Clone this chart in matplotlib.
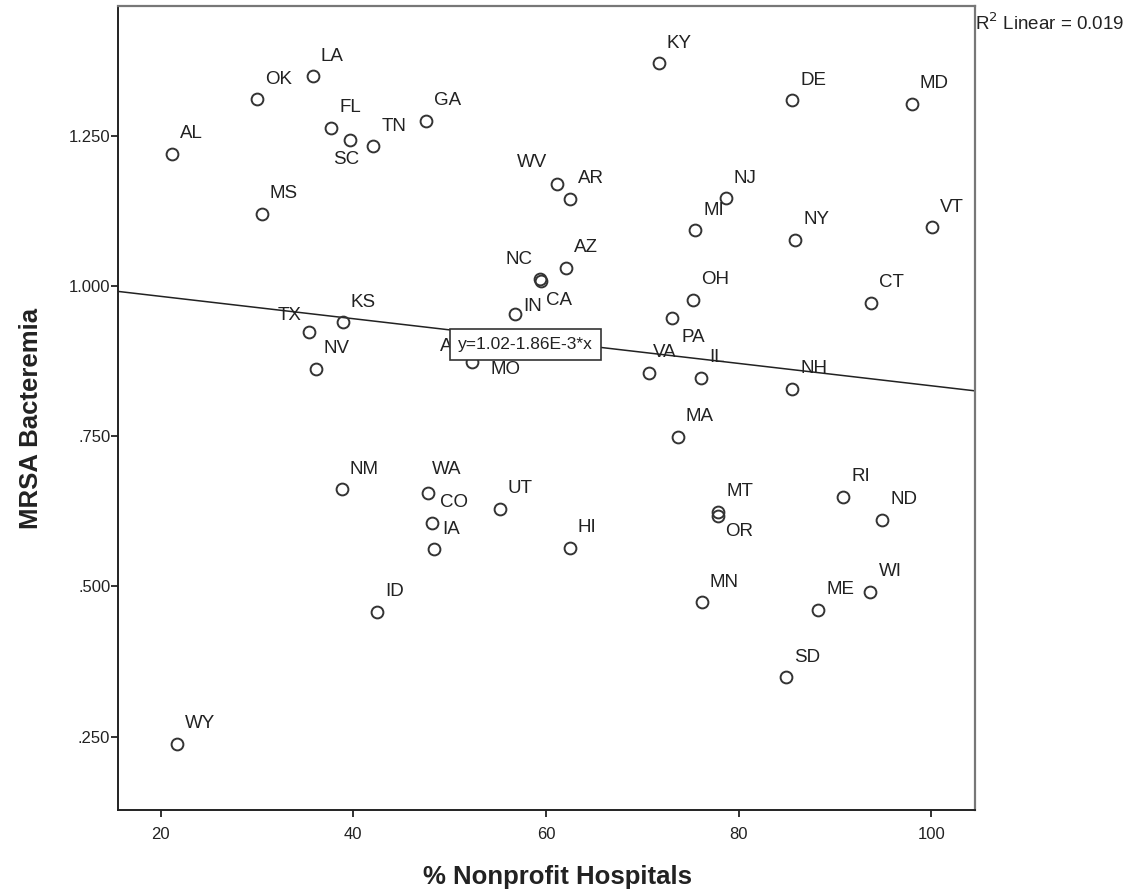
import matplotlib
matplotlib.use("Agg")
import matplotlib.pyplot as plt
import numpy as np

plt.rcParams['font.family'] = ['Liberation Sans', 'DejaVu Sans']

states = ["AL", "OK", "LA", "FL", "SC", "TN", "GA", "MS", "KY", "DE", "MD",
          "WV", "AR", "NJ", "MI", "NY", "VT", "NC", "CA", "AZ", "IN", "OH",
          "PA", "CT", "TX", "KS", "NV", "AK", "MO", "VA", "IL", "NH", "MA",
          "NM", "WA", "CO", "IA", "UT", "HI", "MT", "OR", "RI", "ND", "WI",
          "ME", "MN", "SD", "ID", "WY"]
pct_nonprofit = [21.2, 30.0, 35.8, 37.7, 39.7, 42.1, 47.6, 30.5, 71.7, 85.6, 98.0,
                 61.2, 62.5, 78.7, 75.5, 85.9, 100.1, 59.4, 59.5, 62.1, 56.8, 75.3,
                 73.1, 93.8, 35.4, 38.9, 36.1, 51.9, 52.3, 70.7, 76.1, 85.6, 73.7,
                 38.8, 47.8, 48.2, 48.4, 55.2, 62.5, 77.9, 77.9, 90.9, 94.9, 93.7,
                 88.3, 76.2, 84.9, 42.5, 21.7]
mrsa = [1.220, 1.311, 1.349, 1.263, 1.243, 1.233, 1.275, 1.120, 1.371, 1.309, 1.303,
        1.170, 1.145, 1.146, 1.093, 1.077, 1.098, 1.011, 1.009, 1.030, 0.953, 0.977,
        0.947, 0.972, 0.923, 0.940, 0.862, 0.895, 0.874, 0.855, 0.847, 0.829, 0.749,
        0.662, 0.656, 0.606, 0.562, 0.629, 0.564, 0.624, 0.617, 0.649, 0.611, 0.491,
        0.461, 0.474, 0.349, 0.458, 0.238]

fit_intercept = 1.02
fit_slope = -1.86e-3
r2_linear = 0.019

x_ticks = [20, 40, 60, 80, 100]
y_ticks = [0.25, 0.5, 0.75, 1.0, 1.25]
y_tick_labels = [".250", ".500", ".750", "1.000", "1.250"]

# label offsets in pixels (dx, dy up positive)
default_off = (8, 20)
label_off = {
    "SC": (-17, -20), "WV": (-41, 21), "NC": (-35, 20), "CA": (5, -20),
    "IN": (8, 8), "PA": (9, -20), "TX": (-31, 17), "AK": (-28, 3),
    "MO": (19, -8), "VA": (4, 21), "WA": (4, 23), "OR": (7, -15),
}

fig = plt.figure(figsize=(11.4, 8.96), dpi=100)
ax = fig.add_axes([0.1035, 0.096, 0.7518, 0.8973])
ax.set_xlim(15.57, 104.56)
ax.set_ylim(0.128, 1.466)

ax.plot(pct_nonprofit, mrsa, linestyle='none', marker='o', markersize=8.5,
        markerfacecolor='none', markeredgecolor='#333333', markeredgewidth=1.4,
        zorder=3)

for s, xv, yv in zip(states, pct_nonprofit, mrsa):
    dx, dy = label_off.get(s, default_off)
    ax.annotate(s, (xv, yv), xytext=(dx, dy), textcoords='offset pixels',
                ha='left', va='center', fontsize=13.5, color='#222222', zorder=4)

xl = np.array(ax.get_xlim())
ax.plot(xl, fit_intercept + fit_slope * xl, color='#222222', linewidth=1.1,
        zorder=2)

ax.text(57.9, 0.903, "y=1.02-1.86E-3*x", fontsize=12.5, color='#222222',
        ha='center', va='center', zorder=6,
        bbox=dict(boxstyle='square,pad=0.45', facecolor='white',
                  edgecolor='#333333', linewidth=1.2))

ax.text(1.0, 0.992, "R$^2$ Linear = %.3f" % r2_linear, transform=ax.transAxes,
        ha='left', va='top', fontsize=13.5, color='#222222')

ax.set_xticks(x_ticks)
ax.set_yticks(y_ticks)
ax.set_yticklabels(y_tick_labels)
ax.tick_params(axis='both', direction='out', length=5, width=1.3,
               colors='#222222', labelsize=12)
ax.tick_params(axis='y', pad=0.5)
ax.tick_params(axis='x', pad=7)
for side in ['left', 'bottom']:
    ax.spines[side].set_linewidth(1.4)
    ax.spines[side].set_color('#222222')
for side in ['top', 'right']:
    ax.spines[side].set_linewidth(1.6)
    ax.spines[side].set_color('#777777')

ax.set_xlabel("% Nonprofit Hospitals", fontsize=18.5, fontweight='bold',
              color='#222222')
ax.set_ylabel("MRSA Bacteremia", fontsize=18.5, fontweight='bold',
              color='#222222')
ax.xaxis.set_label_coords(0.513, -0.068)
ax.yaxis.set_label_coords(-0.087, 0.4876)

fig.savefig("out.png", dpi=100, facecolor='white')
